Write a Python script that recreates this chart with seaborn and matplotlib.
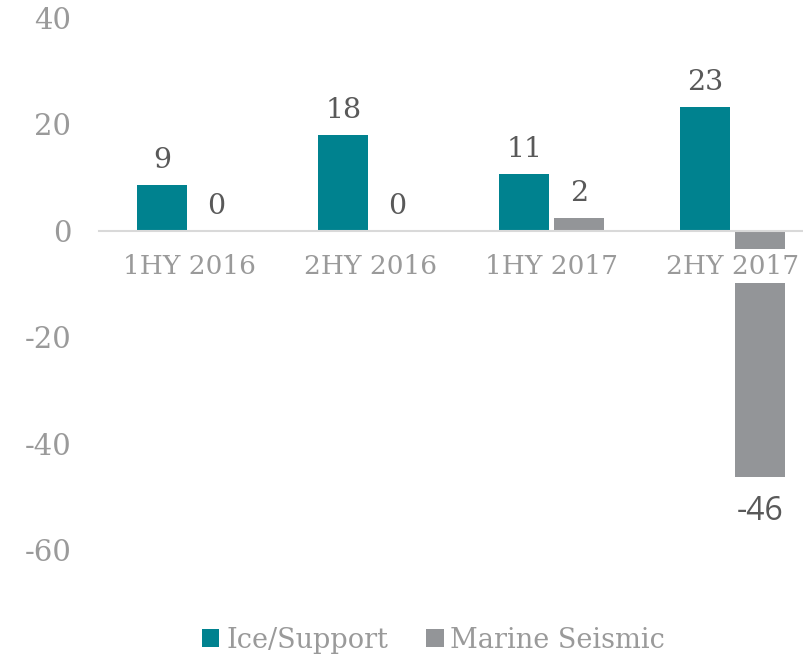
import matplotlib
matplotlib.use("Agg")
import matplotlib.pyplot as plt
import seaborn as sns
import pandas as pd
from matplotlib.patches import Patch

# ---- data ----
categories = ["1HY 2016", "2HY 2016", "1HY 2017", "2HY 2017"]
ice_support = [8.6, 18.0, 10.6, 23.3]
marine_seismic = [0.0, 0.0, 2.4, -46.3]
series_names = ["Ice/Support", "Marine Seismic"]
y_ticks = [-60, -40, -20, 0, 20, 40]

df = pd.DataFrame({
    "period": categories * 2,
    "series": [series_names[0]] * len(categories) + [series_names[1]] * len(categories),
    "value": ice_support + marine_seismic,
})

sns.set_theme(style="white")
plt.rcParams["font.family"] = ["DejaVu Serif"]

TEAL = "#00828F"
GREY = "#939598"
TXT = "#9A9A9A"
LBL = "#595959"
palette = {series_names[0]: TEAL, series_names[1]: GREY}

fig = plt.figure(figsize=(8.04, 6.57), dpi=100)
ax = fig.add_axes([99 / 804, 1 - 550 / 657, 705 / 804, 532 / 657])

sns.barplot(data=df, x="period", y="value", hue="series", order=categories,
            hue_order=series_names, palette=palette, width=0.6, gap=0.08,
            saturation=1, linewidth=0, legend=False, ax=ax)

ax.set_xlim(-0.5, 3.395)
ax.set_ylim(-60, 40)
ax.set_yticks(y_ticks)
ax.set_yticklabels([str(t) for t in y_ticks])
ax.set_xlabel("")
ax.set_ylabel("")
ax.set_axisbelow(False)

for s in ["top", "right", "left"]:
    ax.spines[s].set_visible(False)
ax.spines["bottom"].set_position(("data", 0))
ax.spines["bottom"].set_color("#D9D9D9")
ax.spines["bottom"].set_linewidth(1.5)

ax.tick_params(axis="y", length=0, pad=20, labelsize=21, labelcolor=TXT)
ax.tick_params(axis="x", length=0, pad=16.5, labelsize=19, labelcolor=TXT)
for lab in ax.get_yticklabels():
    lab.set_y(lab.get_position()[1])
for lab in ax.get_xticklabels():
    lab.set_bbox(dict(facecolor="white", edgecolor="none", pad=3.5))

# data labels
values_by_series = [ice_support, marine_seismic]
for cont, vals in zip(ax.containers, values_by_series):
    for patch, v in zip(cont.patches, vals):
        xc = patch.get_x() + patch.get_width() / 2
        if v >= 0:
            ax.annotate(f"{v:.0f}", (xc, v), xytext=(0, 8), textcoords="offset points",
                        ha="center", va="bottom", fontsize=20.5, color=LBL)
        else:
            ax.annotate(f"{v:.0f}", (xc, v), xytext=(0, -13), textcoords="offset points",
                        ha="center", va="top", fontsize=23, color=LBL,
                        family=["Open Sans", "DejaVu Sans"])

handles = [Patch(facecolor=palette[n], edgecolor="none") for n in series_names]
fig.legend(handles, series_names, loc="center", bbox_to_anchor=(433.5 / 804, 1 - 640 / 657),
           ncol=2, frameon=False, fontsize=19.5, labelcolor=TXT,
           handlelength=0.65, handleheight=0.65, handletextpad=0.25, columnspacing=1.4)

fig.savefig("out.png", dpi=100)
